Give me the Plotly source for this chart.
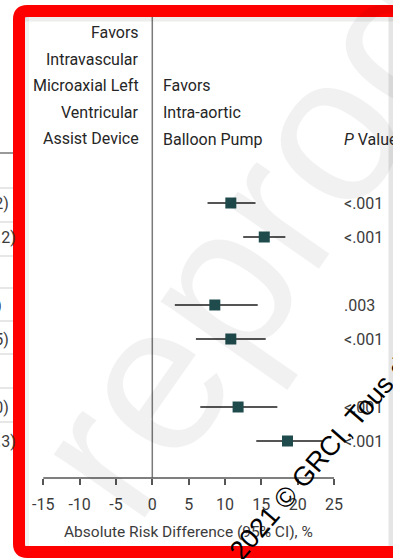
import plotly.graph_objects as go

# ---------------- data ----------------
effects = [10.8, 15.4, 8.6, 10.8, 11.8, 18.6]
ci_low = [7.6, 12.5, 3.1, 6.0, 6.6, 14.3]
ci_high = [14.2, 18.3, 14.5, 15.6, 17.2, 23.4]
p_values = ["<.001", "<.001", ".003", "<.001", "<.001", "<.001"]
row_pos = [0, 1, 3, 4, 6, 7]
left_fragments = ["(7.6-14.2)", "(12.5-18.2)", "(3.1-14.5)", "(6.0-15.5)", "(6.6-17.0)", "(14.3-23.3)"]
tick_vals = [-15, -10, -5, 0, 5, 10, 15, 20, 25]
tick_text = ["-15", "-10", "-5", "0", "5", "10", "15", "20", "25"]
left_header = ["Favors", "Intravascular", "Microaxial Left", "Ventricular", "Assist Device"]
right_header = ["Favors", "Intra-aortic", "Balloon Pump"]
x_title = "Absolute Risk Difference (95% CI), %"

# ---------------- layout constants ----------------
W, H = 393, 559
PLOT_H = 478          # plot area bottom (px)
SCALE = 7.27          # px per unit on x
ZERO_PX = 152.3       # px position of x = 0
ROW0_PX, ROW_STEP = 203, 34

x0 = -ZERO_PX / SCALE
x1 = x0 + W / SCALE
y_top = -ROW0_PX / ROW_STEP
y_bot = (PLOT_H - ROW0_PX) / ROW_STEP

FONT = "Roboto, Liberation Sans, Arial, sans-serif"
FS = 16
TXT = "#262626"


def px(x):
    return x / W


def py(y):
    return 1 - y / PLOT_H


fig = go.Figure()

fig.add_trace(go.Scatter(
    x=effects, y=row_pos, mode="markers",
    marker=dict(symbol="square", size=11, color="#1f4b4d"),
    error_x=dict(type="data", symmetric=False,
                 array=[h - e for h, e in zip(ci_high, effects)],
                 arrayminus=[e - l for e, l in zip(effects, ci_low)],
                 color="#555555", thickness=2, width=0),
    hoverinfo="skip",
))

shapes = []
# zero line
shapes.append(dict(type="line", xref="x", yref="paper", x0=0, x1=0,
                   y0=py(PLOT_H), y1=py(15), line=dict(color="#7a7a7a", width=1.5), layer="below"))
# axis line
shapes.append(dict(type="line", xref="x", yref="paper", x0=tick_vals[0], x1=tick_vals[-1],
                   y0=0, y1=0, line=dict(color="#555555", width=1.5)))
# left table remnants
shapes.append(dict(type="line", xref="paper", yref="paper", x0=0, x1=px(14),
                   y0=py(153), y1=py(153), line=dict(color="#555555", width=1.2)))
for yy in [188, 222, 256, 288, 321, 354, 388, 422]:
    shapes.append(dict(type="line", xref="paper", yref="paper", x0=0, x1=px(14),
                       y0=py(yy), y1=py(yy), line=dict(color="#cfcfcf", width=1)))
# inner shadows of frame
shapes.append(dict(type="line", xref="paper", yref="paper", x0=px(25), x1=px(400),
                   y0=py(19), y1=py(19), line=dict(color="rgba(0,0,0,0.07)", width=5)))
shapes.append(dict(type="line", xref="paper", yref="paper", x0=px(391), x1=px(391),
                   y0=py(17), y1=py(547), line=dict(color="rgba(0,0,0,0.10)", width=5)))
shapes.append(dict(type="line", xref="paper", yref="paper", x0=px(27), x1=px(27),
                   y0=py(17), y1=py(547), line=dict(color="rgba(0,0,0,0.05)", width=4)))
# red frame with rounded corners
L, T, B, R, r = 19, 11, 552, 410, 8
path = (f"M {px(R)},{py(T)} L {px(L + r)},{py(T)} Q {px(L)},{py(T)} {px(L)},{py(T + r)} "
        f"L {px(L)},{py(B - r)} Q {px(L)},{py(B)} {px(L + r)},{py(B)} L {px(R)},{py(B)}")
shapes.append(dict(type="path", xref="paper", yref="paper", path=path,
                   line=dict(color="#ff0000", width=12), layer="above"))

ann = []
# watermark (faint, large)
ann.append(dict(text="reproduction", xref="paper", yref="paper", x=px(411), y=py(10),
                xanchor="center", yanchor="middle", showarrow=False, textangle=-55,
                font=dict(family="Liberation Sans, Arial, sans-serif", size=210,
                          color="rgba(0,0,0,0.055)")))
# header left (right aligned)
for i, t in enumerate(left_header):
    ann.append(dict(text=t, xref="paper", yref="paper", x=px(140.5), y=py(32.5 + 26.6 * i),
                    xanchor="right", yanchor="middle", showarrow=False,
                    font=dict(family=FONT, size=FS, color=TXT)))
for i, t in enumerate(right_header):
    ann.append(dict(text=t, xref="paper", yref="paper", x=px(161), y=py(86 + 26.6 * i),
                    xanchor="left", yanchor="middle", showarrow=False,
                    font=dict(family=FONT, size=FS, color=TXT)))
ann.append(dict(text="<i>P</i> Value", xref="paper", yref="paper", x=px(342), y=py(139),
                xanchor="left", yanchor="middle", showarrow=False,
                font=dict(family=FONT, size=FS, color=TXT)))
# p values
for p, yv in zip(p_values, row_pos):
    ann.append(dict(text=p, xref="paper", yref="y", x=px(342), y=yv,
                    xanchor="left", yanchor="middle", showarrow=False,
                    font=dict(family=FONT, size=FS, color="#3c3c3c")))
# left fragments (cut by the frame / page edge)
frag_right = [11, 18, 4, 10.5, 11, 18]
for t, yv, xr in zip(left_fragments, row_pos, frag_right):
    ann.append(dict(text=t, xref="paper", yref="y", x=px(xr), y=yv,
                    xanchor="right", yanchor="middle", showarrow=False,
                    font=dict(family=FONT, size=FS, color="#3c3c3c")))
# x axis title
ann.append(dict(text=x_title, xref="x", yref="paper", x=5, y=py(532),
                xanchor="center", yanchor="middle", showarrow=False,
                font=dict(family=FONT, size=15.5, color="#3c3c3c")))
# copyright watermark
ann.append(dict(text="2021 © GRCI, Tous droits réservés", xref="paper", yref="paper",
                x=px(372), y=py(398), xanchor="center", yanchor="middle", showarrow=False,
                textangle=-49,
                font=dict(family="Liberation Sans, Arial, sans-serif", size=27, color="#000000")))

fig.update_layout(
    width=W, height=H,
    margin=dict(l=0, r=0, t=0, b=H - PLOT_H, pad=0),
    paper_bgcolor="white", plot_bgcolor="white",
    showlegend=False,
    shapes=shapes, annotations=ann,
    xaxis=dict(range=[x0, x1], autorange=False, showgrid=False, zeroline=False, showline=False,
               tickmode="array", tickvals=tick_vals, ticktext=tick_text,
               ticks="outside", ticklen=6, tickwidth=1.5, tickcolor="#555555",
               ticklabelstandoff=6,
               tickfont=dict(family=FONT, size=FS, color="#3c3c3c")),
    yaxis=dict(range=[y_bot, y_top], autorange=False, visible=False),
)

fig.write_html("out.html")
